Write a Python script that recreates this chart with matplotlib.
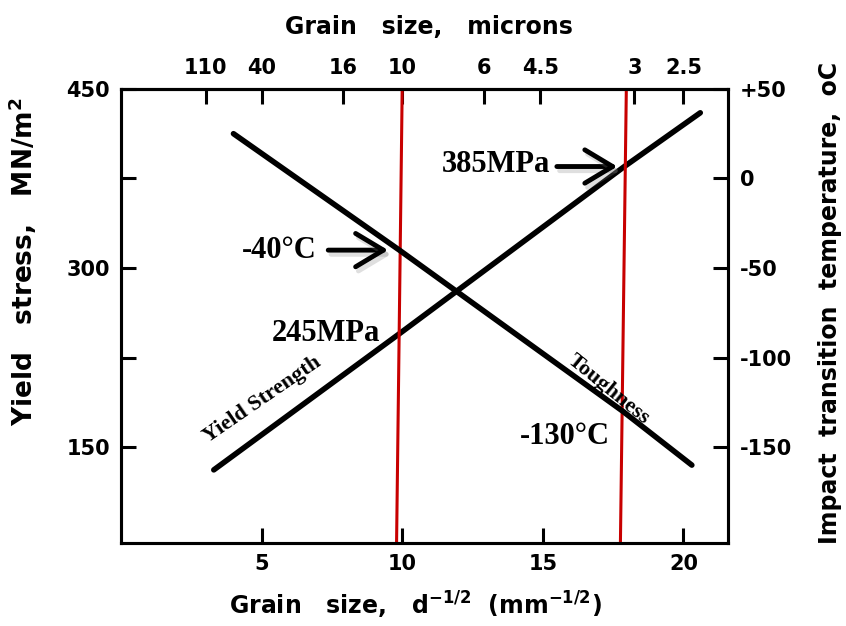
import matplotlib
matplotlib.use("Agg")
import matplotlib.pyplot as plt
import matplotlib.patheffects as pe
import numpy as np

# grain size d^-1/2 (mm^-1/2) vs yield stress (MN/m2) and impact transition temperature (C)
yield_x = [3.3, 9.9, 17.9, 20.6]
yield_stress = [131, 245, 385, 430]

tough_x = [4.0, 9.9, 17.85, 20.3]
tough_temp = [25, -40, -130, -160]

# the two marked grain sizes (top / bottom of each red line)
marker_x_top = [10.0, 17.97]
marker_x_bottom = [9.8, 17.76]

bottom_ticks = [5, 10, 15, 20]
micron_ticks = [110, 40, 16, 10, 6, 4.5, 3, 2.5]
micron_labels = ["110", "40", "16", "10", "6", "4.5", "3", "2.5"]
stress_ticks = [150, 225, 300, 375, 450]
stress_labels = ["150", "", "300", "", "450"]
temp_ticks = [50, 0, -50, -100, -150]
temp_labels = ["+50", "0", "-50", "-100", "-150"]

plt.rcParams["font.family"] = "DejaVu Sans"
plt.rcParams["font.weight"] = "bold"
plt.rcParams["mathtext.default"] = "bf"

SPINE_W = 2.2
TICK_KW = dict(direction="in", length=11, width=2.2, labelsize=15, pad=8)


def stress_to_temp(s):
    return (np.asarray(s) - 150) / 1.5 - 150


fig = plt.figure(figsize=(8.46, 6.26), dpi=100)
ax = fig.add_axes([0.143, 0.133, 0.718, 0.725])
ax.set_xlim(0, 21.6)
ax.set_ylim(70, 450)

axr = ax.twinx()
axr.set_ylim(stress_to_temp(70), stress_to_temp(450))

for a in (ax, axr):
    for sp in a.spines.values():
        sp.set_linewidth(SPINE_W)

# lines
ax.plot(yield_x, yield_stress, color="black", lw=4, solid_capstyle="round")
axr.plot(tough_x, tough_temp, color="black", lw=4, solid_capstyle="round")

for xb, xt in zip(marker_x_bottom, marker_x_top):
    ax.plot([xb, xt], [70, 450], color="#c80000", lw=2.2, zorder=5)

# ticks
ax.set_xticks(bottom_ticks)
ax.set_yticks(stress_ticks, stress_labels)
ax.tick_params(**TICK_KW)
axr.set_yticks(temp_ticks, temp_labels)
axr.tick_params(**TICK_KW)

top = ax.secondary_xaxis("top")
top.set_xticks(np.sqrt(1000.0 / np.array(micron_ticks)), micron_labels)
top.tick_params(**TICK_KW)
top.spines["top"].set_linewidth(SPINE_W)

# axis titles
lab = dict(fontsize=17, fontweight="bold", ha="center", va="center")
fig.text(429 / 846, 1 - 27 / 626, "Grain   size,   microns", **lab)
fig.text(415 / 846, 1 - 605 / 626, "Grain   size,   d$^{-1/2}$  (mm$^{-1/2}$)", **lab)
fig.text(23 / 846, 1 - 262 / 626, "Yield   stress,   MN/m$^2$", rotation=90,
         fontsize=19, fontweight="bold", ha="center", va="center")
fig.text(830 / 846, 1 - 303 / 626, "Impact  transition  temperature,  oC", rotation=90, **lab)

# annotations
serif = dict(family="Liberation Serif", weight="bold", fontsize=22, color="black")
shadow = [pe.SimpleLineShadow(offset=(2, -3), shadow_color="0.5", alpha=0.25), pe.Normal()]
arrow_kw = dict(arrowstyle="->, head_length=1.0, head_width=0.6", lw=3.5,
                color="black", mutation_scale=20, shrinkA=0, shrinkB=0)

arr = axr.annotate("", xy=(9.5, -40), xytext=(7.37, -40), arrowprops=arrow_kw)
arr.arrow_patch.set_path_effects(shadow)
axr.text(6.97, -40, "-40°C", ha="right", va="center", **serif)

arr = ax.annotate("", xy=(17.65, 385), xytext=(15.5, 385), arrowprops=arrow_kw)
arr.arrow_patch.set_path_effects(shadow)
ax.text(15.27, 387, "385MPa", ha="right", va="center", **serif)

ax.text(9.22, 245, "245MPa", ha="right", va="center", **serif)
axr.text(17.4, -144, "-130°C", ha="right", va="center", **serif)

ax.text(5.02, 190, "Yield Strength", rotation=34.5, rotation_mode="anchor",
        ha="center", va="center", family="Liberation Serif", weight="bold", fontsize=16)
axr.text(17.33, -118, "Toughness", rotation=-39, rotation_mode="anchor",
         ha="center", va="center", family="Liberation Serif", weight="bold", fontsize=16)

fig.savefig("out.png", dpi=100, facecolor="white")
